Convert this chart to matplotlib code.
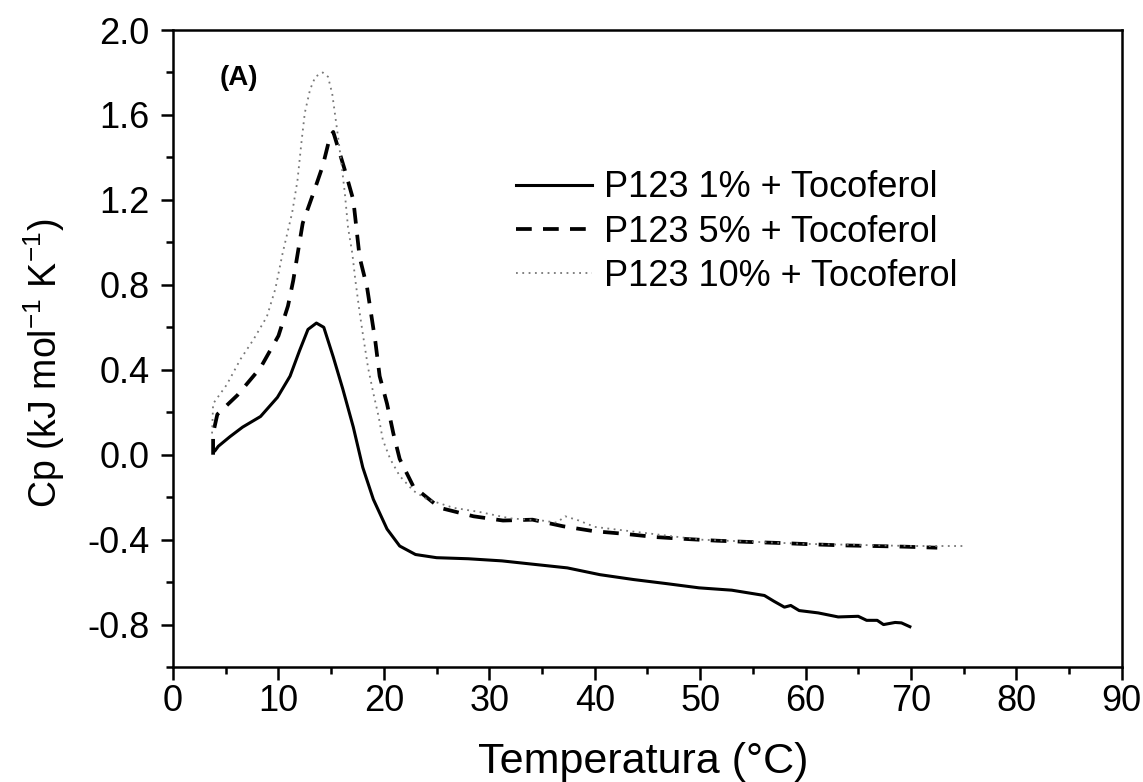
import numpy as np
import matplotlib.pyplot as plt
from matplotlib.ticker import MultipleLocator

plt.rcParams['font.family'] = ['Liberation Sans', 'DejaVu Sans']
plt.rcParams['axes.unicode_minus'] = False
plt.rcParams['mathtext.fontset'] = 'custom'
plt.rcParams['mathtext.rm'] = 'Liberation Sans'
plt.rcParams['mathtext.it'] = 'Liberation Sans:italic'
plt.rcParams['mathtext.bf'] = 'Liberation Sans:bold'

# P123 1% + Tocoferol (solid)
t1 = [4.0, 4.3, 5.4, 6.6, 8.3, 9.9, 11.1, 12.0, 12.8, 13.6, 14.3, 15.2, 16.1, 17.1, 18.0,
      19.0, 20.3, 21.5, 23.0, 25.0, 28.0, 31.2, 34.0, 37.4, 40.5, 43.7, 46.8, 49.9, 53.0,
      56.1, 57.0, 58.0, 58.6, 59.4, 61.2, 63.1, 65.0, 65.8, 66.8, 67.4, 68.5, 69.1, 69.9]
cp1 = [0.02, 0.04, 0.085, 0.13, 0.18, 0.27, 0.37, 0.49, 0.59, 0.62, 0.60, 0.46, 0.31, 0.13, -0.06,
       -0.21, -0.35, -0.43, -0.47, -0.485, -0.49, -0.50, -0.515, -0.533, -0.565, -0.588, -0.607, -0.627, -0.638,
       -0.663, -0.69, -0.718, -0.71, -0.734, -0.745, -0.764, -0.761, -0.78, -0.78, -0.80, -0.79, -0.792, -0.81]

# P123 5% + Tocoferol (dashed)
t5 = [3.8, 3.8, 4.2, 6.1, 8.3, 10.0, 10.9, 11.4, 12.3, 13.3, 14.2, 14.9, 15.2, 16.3, 17.1,
      17.7, 18.4, 19.2, 19.6, 20.3, 20.9, 21.5, 22.8, 25.3, 28.5, 31.3, 34.1, 37.0, 39.9,
      42.9, 45.8, 48.7, 51.6, 54.7, 57.7, 60.6, 63.5, 66.4, 69.3, 72.5]
cp5 = [0.0, 0.10, 0.19, 0.28, 0.41, 0.56, 0.70, 0.82, 1.09, 1.23, 1.36, 1.50, 1.52, 1.34, 1.20,
       0.93, 0.79, 0.53, 0.37, 0.24, 0.10, -0.02, -0.15, -0.25, -0.29, -0.31, -0.306, -0.337, -0.36,
       -0.373, -0.388, -0.397, -0.405, -0.411, -0.416, -0.422, -0.427, -0.43, -0.433, -0.438]

# P123 10% + Tocoferol (dotted)
t10 = [3.7, 3.8, 5.1, 6.4, 7.6, 8.9, 9.7, 10.4, 11.3, 11.8, 12.2, 12.5, 13.0, 13.5, 14.2,
       14.7, 15.1, 15.4, 15.7, 16.0, 16.3, 16.6, 17.0, 17.3, 17.7, 18.0, 18.5, 19.0, 19.5,
       19.9, 20.6, 21.5, 22.8, 24.1, 26.6, 29.1, 32.0, 35.0, 36.4, 37.2, 38.5, 40.0, 45.0,
       50.0, 55.0, 60.0, 65.0, 70.0, 75.0]
cp10 = [0.10, 0.24, 0.33, 0.45, 0.54, 0.65, 0.78, 0.95, 1.14, 1.29, 1.48, 1.61, 1.72, 1.78, 1.80,
        1.78, 1.70, 1.59, 1.48, 1.36, 1.23, 1.07, 0.95, 0.82, 0.67, 0.57, 0.41, 0.29, 0.18,
        0.07, -0.02, -0.10, -0.17, -0.21, -0.25, -0.27, -0.30, -0.31, -0.32, -0.29, -0.31, -0.34, -0.37,
        -0.40, -0.41, -0.42, -0.425, -0.43, -0.43]

labels = ['P123 1% + Tocoferol', 'P123 5% + Tocoferol', 'P123 10% + Tocoferol']

fig = plt.figure(figsize=(11.43, 7.82), dpi=100)
ax = fig.add_axes([0.1514, 0.147, 0.830, 0.8146])

ax.plot(t1, cp1, color='black', lw=2.2, label=labels[0])
ax.plot(t5, cp5, color='black', lw=2.7, dashes=(4.2, 3.0), label=labels[1])
ax.plot(t10, cp10, color='#777777', lw=1.3, ls=(0, (1, 2.5)), label=labels[2])

ax.set_xlim(0, 90)
ax.set_ylim(-1.0, 2.0)
ax.xaxis.set_major_locator(MultipleLocator(10))
ax.xaxis.set_minor_locator(MultipleLocator(5))
ax.set_yticks([-0.8, -0.4, 0.0, 0.4, 0.8, 1.2, 1.6, 2.0])
ax.yaxis.set_minor_locator(MultipleLocator(0.2))
ax.tick_params(which='both', direction='out', width=1.8, labelsize=26, top=False, right=False)
ax.tick_params(which='major', length=9)
ax.tick_params(which='minor', length=5)
ax.tick_params(axis='y', which='major', pad=8)
for s in ax.spines.values():
    s.set_linewidth(1.8)

ax.set_xlabel('Temperatura (°C)', fontsize=31)
ax.xaxis.set_label_coords(0.496, -0.117)
ax.set_ylabel('Cp (kJ mol$^{-1}$ K$^{-1}$)', fontsize=27)
ax.yaxis.set_label_coords(-0.112, 0.477)
ax.text(4.4, 1.74, '(A)', fontsize=20, fontweight='bold')

ax.legend(frameon=False, fontsize=26, loc='upper left', bbox_to_anchor=(0.362, 0.78),
          handlelength=2.1, handletextpad=0.33, labelspacing=0.26, borderpad=0,
          borderaxespad=0)

fig.savefig('out.png', dpi=100)
